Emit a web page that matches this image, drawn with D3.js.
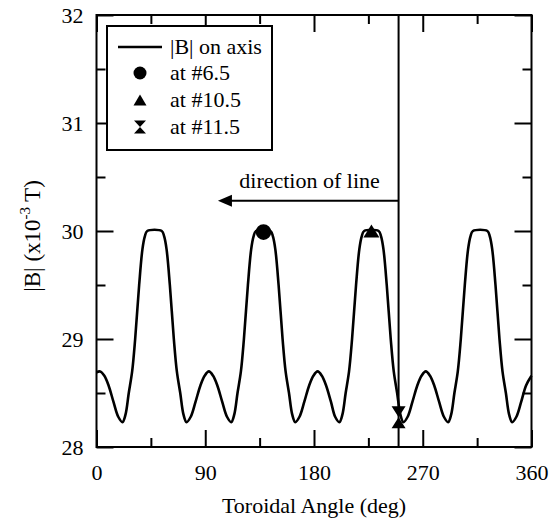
<!doctype html>
<html lang="en"><head><title>|B| on axis vs toroidal angle</title><meta charset="utf-8">
<script src="https://cdn.jsdelivr.net/npm/d3@7"></script>
</head>
<body style="margin:0">
<script>
// |B| on axis versus toroidal angle
const angleDeg = [
  0, 3, 6.5, 10, 14, 18, 21.5, 24, 26.7, 29.5, 32, 35.3, 38, 40, 42, 54, 56, 58, 60.7, 64, 66.5, 69.3, 72, 74.5, 78, 82, 86, 89.5, 93,
  96.5, 100, 104, 108, 111.5, 114, 116.7, 119.5, 122, 125.3, 128, 130, 132, 144, 146, 148, 150.7, 154, 156.5, 159.3, 162, 164.5, 168, 172, 176, 179.5, 183,
  186.5, 190, 194, 197.5, 201, 203.5, 206.2, 209, 211.5, 214.8, 217.5, 219.5, 221.5, 233.5, 235.5, 237.5, 240.2, 243.5, 246, 248.8, 251.5, 254, 257.5, 261.5, 265.5, 269, 272.5,
  276, 279.5, 283.5, 287.5, 291, 293.5, 296.2, 299, 301.5, 304.8, 307.5, 309.5, 311.5, 323.5, 325.5, 327.5, 330.2, 333.5, 336, 338.8, 341.5, 344, 347.5, 351.5, 355.5, 360
];
const bOnAxis = [
  28.69, 28.70, 28.66, 28.57, 28.42, 28.28, 28.23, 28.30, 28.50, 28.70, 29.00, 29.50, 29.83, 29.95, 30.00, 30.00, 29.95, 29.83, 29.50, 29.00, 28.70, 28.50, 28.30, 28.23, 28.28, 28.42, 28.57, 28.66, 28.70,
  28.66, 28.57, 28.42, 28.28, 28.23, 28.30, 28.50, 28.70, 29.00, 29.50, 29.83, 29.95, 30.00, 30.00, 29.95, 29.83, 29.50, 29.00, 28.70, 28.50, 28.30, 28.23, 28.28, 28.42, 28.57, 28.66, 28.70,
  28.66, 28.57, 28.42, 28.28, 28.23, 28.30, 28.50, 28.70, 29.00, 29.50, 29.83, 29.95, 30.00, 30.00, 29.95, 29.83, 29.50, 29.00, 28.70, 28.50, 28.30, 28.23, 28.28, 28.42, 28.57, 28.66, 28.70,
  28.66, 28.57, 28.42, 28.28, 28.23, 28.30, 28.50, 28.70, 29.00, 29.50, 29.83, 29.95, 30.00, 30.00, 29.95, 29.83, 29.50, 29.00, 28.70, 28.50, 28.30, 28.23, 28.28, 28.42, 28.57, 28.66
];

// points measured at the coils
const markerLabels = ['at #6.5', 'at #10.5', 'at #11.5'];
const markerAngles = [138.2, 227.5, 250];
const markerValues = [29.99, 30.0, 28.276];

const xTicks = [0, 90, 180, 270, 360];
const xMinor = [45, 135, 225, 315];
const yTicks = [28, 29, 30, 31, 32];
const yMinor = [28.5, 29.5, 30.5, 31.5];

const lineAngle = 250;     // vertical line position
const arrowEnd = 100.5;    // arrow tip
const arrowLevel = 30.28;

const serifFont = '"Liberation Serif"';

const W = 557, H = 523;
const margin = { top: 15, right: 25.5, bottom: 76, left: 96.5 };
const width = W - margin.left - margin.right;
const height = H - margin.top - margin.bottom;

const svg = d3.select('body').append('svg')
  .attr('width', W)
  .attr('height', H)
  .style('font-family', serifFont);

const g = svg.append('g')
  .attr('transform', `translate(${margin.left},${margin.top})`);

const x = d3.scaleLinear().domain([0, 360]).range([0, width]);
const y = d3.scaleLinear().domain([28, 32]).range([height, 0]);

const styleAxis = (sel) => {
  sel.attr('font-family', null).attr('font-size', null);
  sel.select('.domain').remove();
  sel.selectAll('line').attr('stroke', '#000').attr('stroke-width', 2);
  sel.selectAll('text').attr('fill', '#000')
    .style('font-family', serifFont).style('font-size', '22px');
};

// major + minor ticks on all four sides, pointing inwards
g.append('g').attr('transform', `translate(0,${height})`)
  .call(d3.axisBottom(x).tickValues(xTicks).tickSizeInner(-17).tickSizeOuter(0).tickPadding(17))
  .call(styleAxis);
g.append('g').attr('transform', `translate(0,${height})`)
  .call(d3.axisBottom(x).tickValues(xMinor).tickSizeInner(-9).tickSizeOuter(0).tickFormat(''))
  .call(styleAxis);
g.append('g')
  .call(d3.axisTop(x).tickValues(xTicks).tickSizeInner(-17).tickSizeOuter(0).tickFormat(''))
  .call(styleAxis);
g.append('g')
  .call(d3.axisTop(x).tickValues(xMinor).tickSizeInner(-9).tickSizeOuter(0).tickFormat(''))
  .call(styleAxis);

g.append('g')
  .call(d3.axisLeft(y).tickValues(yTicks).tickSizeInner(-17).tickSizeOuter(0).tickPadding(13).tickFormat(d3.format('d')))
  .call(styleAxis);
g.append('g')
  .call(d3.axisLeft(y).tickValues(yMinor).tickSizeInner(-9).tickSizeOuter(0).tickFormat(''))
  .call(styleAxis);
g.append('g').attr('transform', `translate(${width},0)`)
  .call(d3.axisRight(y).tickValues(yTicks).tickSizeInner(-17).tickSizeOuter(0).tickFormat(''))
  .call(styleAxis);
g.append('g').attr('transform', `translate(${width},0)`)
  .call(d3.axisRight(y).tickValues(yMinor).tickSizeInner(-9).tickSizeOuter(0).tickFormat(''))
  .call(styleAxis);

// curve
const line = d3.line()
  .x((d, i) => x(angleDeg[i]))
  .y((d) => y(d))
  .curve(d3.curveCatmullRom.alpha(0.5));

g.append('path')
  .datum(bOnAxis)
  .attr('fill', 'none')
  .attr('stroke', '#000')
  .attr('stroke-width', 2.6)
  .attr('stroke-linejoin', 'round')
  .attr('d', line);

// vertical line and arrow
g.append('line')
  .attr('x1', x(lineAngle)).attr('x2', x(lineAngle))
  .attr('y1', 0).attr('y2', height)
  .attr('stroke', '#000').attr('stroke-width', 2);

g.append('line')
  .attr('x1', x(lineAngle)).attr('x2', x(arrowEnd) + 9)
  .attr('y1', y(arrowLevel)).attr('y2', y(arrowLevel))
  .attr('stroke', '#000').attr('stroke-width', 2);
g.append('path')
  .attr('d', `M${x(arrowEnd)},${y(arrowLevel)} l14,-6 l0,12 z`)
  .attr('fill', '#000');

g.append('text')
  .attr('x', x(176.3))
  .attr('y', y(30.40))
  .attr('text-anchor', 'middle')
  .style('font-family', serifFont)
  .style('font-size', '22px')
  .text('direction of line');

// marker shapes
const hourglass = (w, h) => `M${-w / 2},${-h / 2} L${w / 2},${-h / 2} L0,0 L${w / 2},${h / 2} L${-w / 2},${h / 2} L0,0 Z`;
const triangle = (w, h) => `M0,${-h / 2} L${w / 2},${h / 2} L${-w / 2},${h / 2} Z`;
const markerPath = [
  () => d3.symbol(d3.symbolCircle, Math.PI * 7.8 * 7.8)(),
  () => triangle(16, 13),
  () => hourglass(14, 22),
];
const legendPath = [
  () => d3.symbol(d3.symbolCircle, Math.PI * 6.5 * 6.5)(),
  () => triangle(13, 11),
  () => hourglass(12, 13),
];

g.selectAll('.marker')
  .data(markerLabels)
  .enter()
  .append('path')
  .attr('class', 'marker')
  .attr('transform', (d, i) => `translate(${x(markerAngles[i])},${y(markerValues[i])})`)
  .attr('d', (d, i) => markerPath[i]())
  .attr('fill', '#000');

// frame
g.append('rect')
  .attr('width', width).attr('height', height)
  .attr('fill', 'none').attr('stroke', '#000').attr('stroke-width', 2);

// legend
const legend = svg.append('g').attr('transform', 'translate(107,26)');
legend.append('rect')
  .attr('width', 165).attr('height', 124)
  .attr('fill', '#fff').attr('stroke', '#000').attr('stroke-width', 2);
legend.append('line')
  .attr('x1', 11).attr('x2', 55).attr('y1', 21).attr('y2', 21)
  .attr('stroke', '#000').attr('stroke-width', 2.4);
legend.append('text').attr('x', 63).attr('y', 28)
  .style('font-family', serifFont).style('font-size', '22px')
  .text('|B| on axis');

const rows = legend.selectAll('.row')
  .data(markerLabels)
  .enter()
  .append('g')
  .attr('class', 'row')
  .attr('transform', (d, i) => `translate(0,${47 + i * 27})`);
rows.append('path')
  .attr('transform', 'translate(33,0)')
  .attr('d', (d, i) => legendPath[i]())
  .attr('fill', '#000');
rows.append('text')
  .attr('x', 63).attr('y', 7)
  .style('font-family', serifFont).style('font-size', '22px')
  .text((d) => d);

// axis titles
svg.append('text')
  .attr('x', margin.left + width / 2)
  .attr('y', 513)
  .attr('text-anchor', 'middle')
  .style('font-family', serifFont).style('font-size', '22px')
  .text('Toroidal Angle (deg)');

const yt = svg.append('text')
  .attr('transform', 'translate(40,236) rotate(-90)')
  .attr('text-anchor', 'middle')
  .style('font-family', serifFont).style('font-size', '23px');
yt.append('tspan').text('|B| (x10');
yt.append('tspan').attr('dy', -10).style('font-size', '15px').text('-3');
yt.append('tspan').attr('dy', 10).attr('dx', 5).text('T)');
</script>
</body>
</html>
